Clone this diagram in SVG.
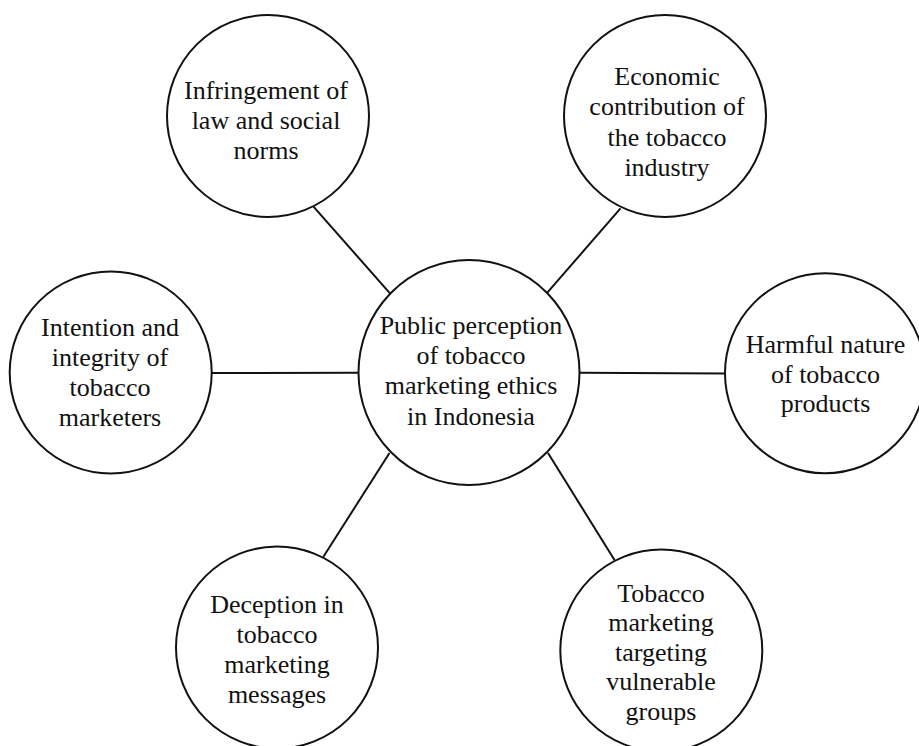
<svg xmlns="http://www.w3.org/2000/svg" width="919" height="746" viewBox="0 0 919 746">
<style>
  .node { fill: #ffffff; stroke: #111111; stroke-width: 2; }
  .lbl { font-family: "Liberation Serif", "Times New Roman", serif; font-size: 26px; fill: #111111; text-anchor: middle; }
  .edge { stroke: #111111; stroke-width: 2; fill: none; }
</style>
<rect x="0" y="0" width="919" height="746" fill="#ffffff"/>
<g id="connectors">
  <line class="edge" x1="313.5" y1="206.7" x2="390" y2="293.3"/>
  <line class="edge" x1="620.5" y1="208.3" x2="547.3" y2="292.7"/>
  <line class="edge" x1="212" y1="373" x2="358.5" y2="372.7"/>
  <line class="edge" x1="579.5" y1="372.7" x2="725" y2="373.5"/>
  <line class="edge" x1="389.5" y1="453" x2="323.4" y2="556.7"/>
  <line class="edge" x1="548" y1="453" x2="614.5" y2="560"/>
</g>
<g id="node-infringement">
  <circle class="node" cx="268" cy="116" r="101"/>
  <text class="lbl" x="266" y="99">Infringement of</text>
  <text class="lbl" x="266" y="129">law and social</text>
  <text class="lbl" x="266" y="159">norms</text>
</g>
<g id="node-economic">
  <circle class="node" cx="665" cy="116" r="101"/>
  <text class="lbl" x="667" y="85">Economic</text>
  <text class="lbl" x="667" y="115">contribution of</text>
  <text class="lbl" x="667" y="145.5">the tobacco</text>
  <text class="lbl" x="667" y="175.5">industry</text>
</g>
<g id="node-intention">
  <circle class="node" cx="110.7" cy="372.5" r="101"/>
  <text class="lbl" x="110" y="336">Intention and</text>
  <text class="lbl" x="110" y="366">integrity of</text>
  <text class="lbl" x="110" y="395.5">tobacco</text>
  <text class="lbl" x="110" y="425.5">marketers</text>
</g>
<g id="node-center">
  <ellipse class="node" cx="469" cy="372.5" rx="110.5" ry="112.5"/>
  <text class="lbl" x="471" y="334">Public perception</text>
  <text class="lbl" x="471" y="364">of tobacco</text>
  <text class="lbl" x="471" y="394">marketing ethics</text>
  <text class="lbl" x="471" y="424.5">in Indonesia</text>
</g>
<g id="node-harmful">
  <circle class="node" cx="825" cy="373.3" r="100"/>
  <text class="lbl" x="825.5" y="352.7">Harmful nature</text>
  <text class="lbl" x="825.5" y="382.5">of tobacco</text>
  <text class="lbl" x="825.5" y="412">products</text>
</g>
<g id="node-deception">
  <circle class="node" cx="277" cy="647.5" r="101"/>
  <text class="lbl" x="277" y="613">Deception in</text>
  <text class="lbl" x="277" y="643">tobacco</text>
  <text class="lbl" x="277" y="673">marketing</text>
  <text class="lbl" x="277" y="703">messages</text>
</g>
<g id="node-vulnerable">
  <circle class="node" cx="661.3" cy="650.5" r="101"/>
  <text class="lbl" x="661" y="601.5">Tobacco</text>
  <text class="lbl" x="661" y="631">marketing</text>
  <text class="lbl" x="661" y="660.5">targeting</text>
  <text class="lbl" x="661" y="690">vulnerable</text>
  <text class="lbl" x="661" y="719.5">groups</text>
</g>
</svg>
